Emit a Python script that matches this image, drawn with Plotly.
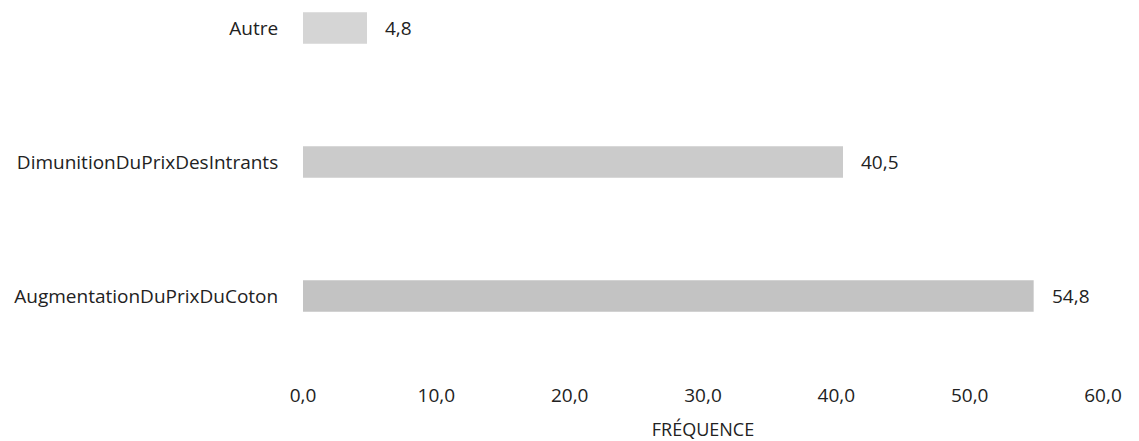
import plotly.graph_objects as go

# Horizontal bar chart: reasons, frequency in percent
categories = ["AugmentationDuPrixDuCoton", "DimunitionDuPrixDesIntrants", "Autre"]
frequences = [54.8, 40.5, 4.8]
bar_colors = ["#c3c3c3", "#cbcbcb", "#d5d5d5"]
x_ticks = [0, 10, 20, 30, 40, 50, 60]

FONT = "Open Sans"
TEXT = "#222222"

fig = go.Figure()
fig.add_trace(go.Bar(
    x=frequences,
    y=categories,
    orientation="h",
    width=0.235,
    marker=dict(color=bar_colors, line=dict(width=0)),
    hoverinfo="skip",
))

# value labels just right of each bar end
for cat, v in zip(categories, frequences):
    fig.add_annotation(
        x=v, y=cat, xref="x", yref="y",
        text=f"{v:.1f}".replace(".", ","),
        showarrow=False, xanchor="left", xshift=16,
        font=dict(family=FONT, size=19, color=TEXT),
    )

fig.update_layout(
    width=1139, height=441,
    margin=dict(l=303, r=36, t=0, b=71),
    paper_bgcolor="white", plot_bgcolor="white",
    showlegend=False,
    separators=", ",
    font=dict(family=FONT, size=19, color=TEXT),
    xaxis=dict(
        range=[0, 60],
        tickvals=x_ticks,
        tickformat=".1f",
        showgrid=False, zeroline=False, showline=False,
        ticks="outside", ticklen=8, tickcolor="rgba(0,0,0,0)",
        tickfont=dict(family=FONT, size=19, color=TEXT),
        title=dict(text="FRÉQUENCE", standoff=17,
                   font=dict(family=FONT, size=18, color=TEXT)),
    ),
    yaxis=dict(
        type="category",
        categoryorder="array", categoryarray=categories,
        range=[-0.552, 2.209],
        showgrid=False, zeroline=False, showline=False,
        ticks="outside", ticklen=20, tickcolor="rgba(0,0,0,0)",
        tickfont=dict(family=FONT, size=19, color=TEXT),
    ),
)

fig.write_html("out.html")
